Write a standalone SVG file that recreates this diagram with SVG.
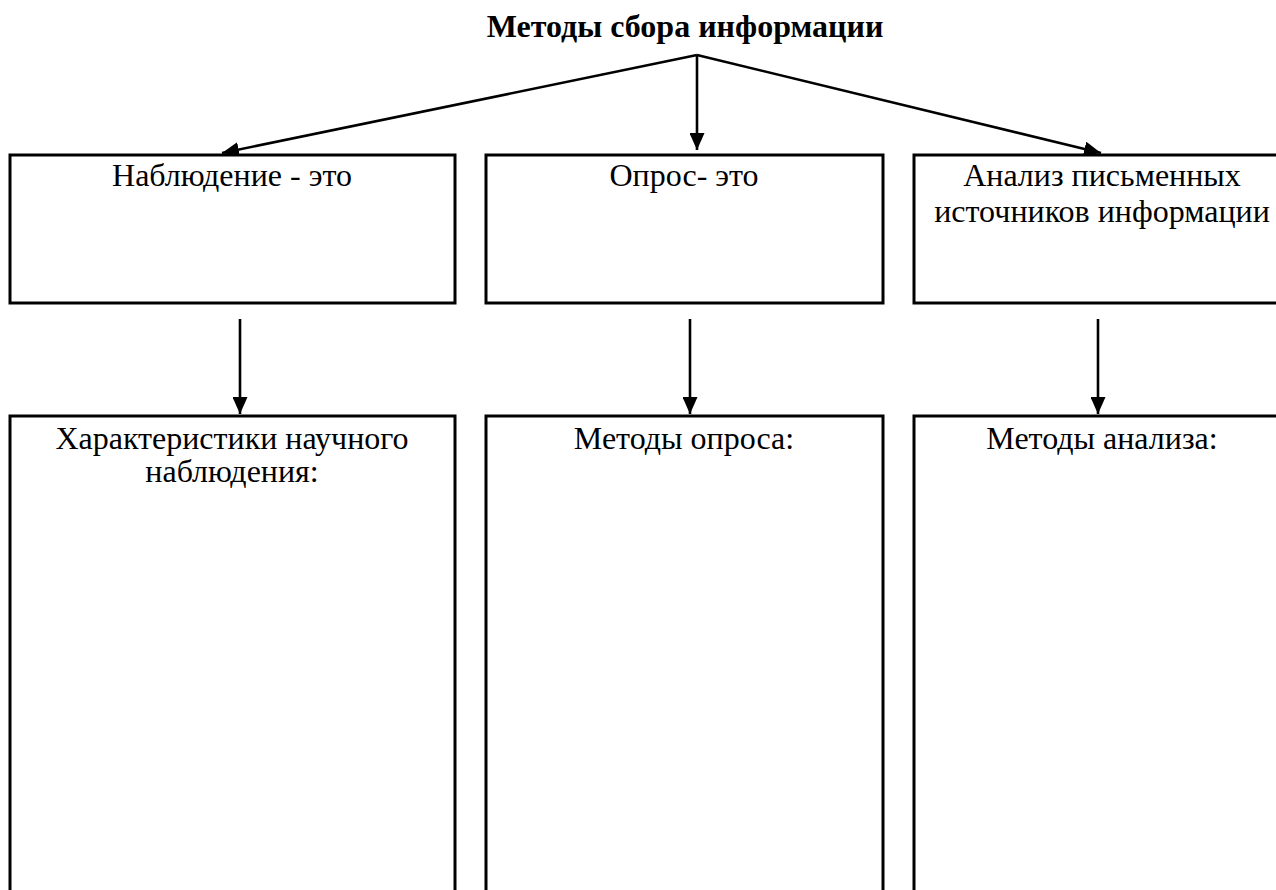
<svg xmlns="http://www.w3.org/2000/svg" width="1276" height="890" viewBox="0 0 1276 890">
<style>
.box{fill:#fff;stroke:#000;stroke-width:3}
.t{font-family:"Liberation Serif","Times New Roman",serif;font-size:32px;fill:#000;text-anchor:middle}
.title{font-weight:bold}
.c{stroke:#000;stroke-width:2.6;fill:none}
</style>
<defs>
<marker id="ah" markerWidth="17" markerHeight="15" refX="17" refY="7.5" orient="auto" markerUnits="userSpaceOnUse">
<path d="M0,0 L17,7.5 L0,15 Z" fill="#000"/>
</marker>
</defs>
<rect width="1276" height="890" fill="#fff"/>
<g id="title"><text class="t title" x="685" y="37">Методы сбора информации</text></g>
<g id="connectors">
<line class="c" x1="697" y1="55" x2="222" y2="153" marker-end="url(#ah)"/>
<line class="c" x1="697" y1="55" x2="697" y2="150" marker-end="url(#ah)"/>
<line class="c" x1="697" y1="55" x2="1101" y2="153" marker-end="url(#ah)"/>
<line class="c" x1="240" y1="319" x2="240" y2="414" marker-end="url(#ah)"/>
<line class="c" x1="690" y1="319" x2="690" y2="414" marker-end="url(#ah)"/>
<line class="c" x1="1098" y1="319" x2="1098" y2="414" marker-end="url(#ah)"/>
</g>
<g id="n1"><rect class="box" x="10" y="155" width="445" height="148"/><text class="t" x="232" y="186">Наблюдение - это</text></g>
<g id="n2"><rect class="box" x="486" y="155" width="397" height="148"/><text class="t" x="684" y="186">Опрос- это</text></g>
<g id="n3"><rect class="box" x="914" y="155" width="380" height="148"/><text class="t" x="1102" y="186">Анализ письменных</text><text class="t" x="1102" y="222">источников информации</text></g>
<g id="n4"><rect class="box" x="10" y="416" width="445" height="500"/><text class="t" x="232" y="449">Характеристики научного</text><text class="t" x="232" y="482">наблюдения:</text></g>
<g id="n5"><rect class="box" x="486" y="416" width="397" height="500"/><text class="t" x="684" y="449">Методы опроса:</text></g>
<g id="n6"><rect class="box" x="914" y="416" width="380" height="500"/><text class="t" x="1102" y="449">Методы анализа:</text></g>
</svg>
